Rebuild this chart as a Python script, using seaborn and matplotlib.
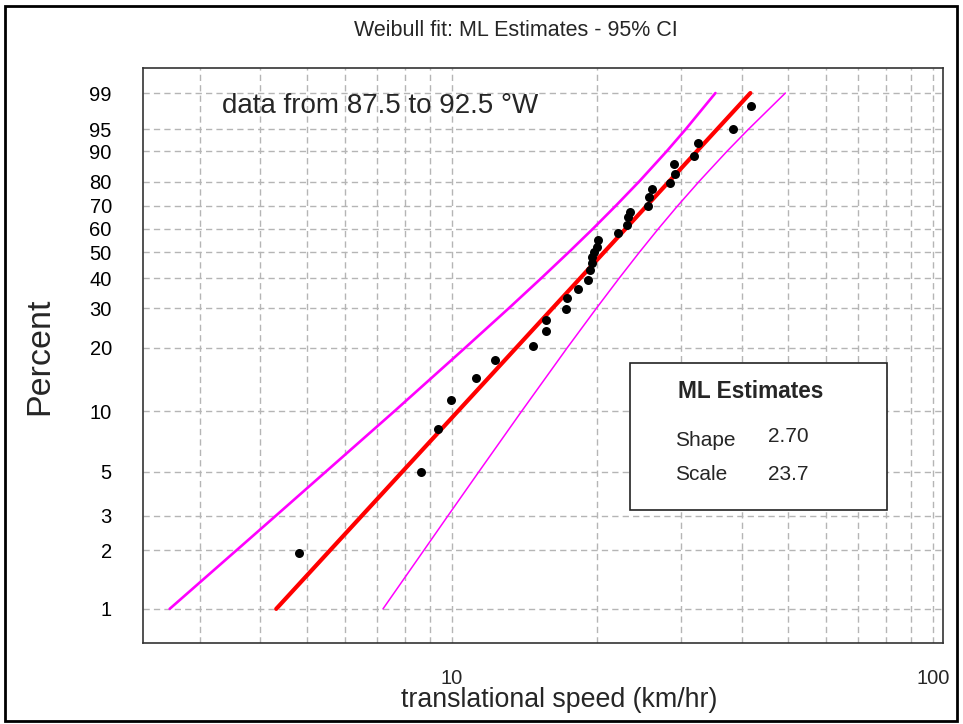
import numpy as np
import pandas as pd
import matplotlib
matplotlib.use("Agg")
import matplotlib.pyplot as plt
import matplotlib.ticker as mticker
from matplotlib.patches import Rectangle
import seaborn as sns

# Observed translational speeds (km/hr) and their plotting positions (%)
speed = [4.81, 8.62, 9.35, 9.95, 11.22, 12.28, 14.73, 15.68, 15.68, 17.25,
         17.34, 18.28, 19.18, 19.36, 19.55, 19.55, 19.74, 20.03, 20.12, 22.13,
         23.11, 23.20, 23.45, 25.56, 25.68, 26.05, 28.40, 29.08, 28.94, 31.85,
         32.46, 38.38, 41.84]
percent = [1.93, 4.98, 8.16, 11.33, 14.44, 17.57, 20.39, 23.85, 26.71, 29.82,
           33.20, 36.17, 39.33, 43.04, 45.74, 48.13, 50.19, 52.26, 55.22, 58.23,
           61.70, 65.20, 67.40, 69.98, 73.79, 77.07, 79.42, 82.78, 86.22, 88.69,
           92.13, 95.03, 98.07]

# Maximum-likelihood Weibull parameters
shape_ml = 2.70
scale_ml = 23.7

# 95% confidence bounds on the percentiles
ci_pct = [1, 2, 3, 5, 10, 20, 30, 40, 50, 60, 70, 80, 90, 95, 99]
ci_lower_speed = [2.59, 3.57, 4.31, 5.47, 7.60, 10.65, 13.12, 15.34, 17.47,
                  19.62, 21.89, 24.50, 27.94, 30.62, 35.30]
ci_upper_speed = [7.19, 8.75, 9.82, 11.38, 13.97, 17.36, 19.96, 22.27, 24.51,
                  26.84, 29.44, 32.63, 37.29, 41.35, 49.33]

y_ticks = [1, 2, 3, 5, 10, 20, 30, 40, 50, 60, 70, 80, 90, 95, 99]
x_major = [10, 100]
x_minor = [3, 4, 5, 6, 7, 8, 9, 20, 30, 40, 50, 60, 70, 80, 90]

sns.set_style("white")
plt.rcParams["font.family"] = ["Liberation Sans", "DejaVu Sans"]


def weib_fwd(p):
    p = np.clip(np.asarray(p, dtype=float), 1e-9, 100 - 1e-9)
    return np.log(-np.log(1 - p / 100.0))


def weib_inv(w):
    return 100.0 * (1 - np.exp(-np.exp(np.asarray(w, dtype=float))))


fig = plt.figure(figsize=(9.63, 7.24), dpi=100)
W, H = 963, 724
ax = fig.add_axes([143 / W, 1 - 643 / H, 800 / W, 575 / H])
ax.set_xscale("log")
ax.set_yscale("function", functions=(weib_fwd, weib_inv))
ax.set_xlim(2.28, 104.9)
ax.set_ylim(0.668, 99.797)

# fitted Weibull line from the ML parameters
fit_pct = np.array([1.0, 99.0])
fit_speed = scale_ml * (-np.log(1 - fit_pct / 100.0)) ** (1 / shape_ml)
fit_df = pd.DataFrame({"speed": fit_speed, "pct": fit_pct})
lo_df = pd.DataFrame({"speed": ci_lower_speed, "pct": ci_pct})
hi_df = pd.DataFrame({"speed": ci_upper_speed, "pct": ci_pct})
pts_df = pd.DataFrame({"speed": speed, "pct": percent})

sns.lineplot(data=lo_df, x="speed", y="pct", ax=ax, color="#ff00ff",
             lw=1.9, estimator=None, sort=False, zorder=3)
sns.lineplot(data=hi_df, x="speed", y="pct", ax=ax, color="#ff00ff",
             lw=1.1, estimator=None, sort=False, zorder=3)
sns.lineplot(data=fit_df, x="speed", y="pct", ax=ax, color="#ff0000",
             lw=3.0, estimator=None, sort=False, zorder=4)
sns.scatterplot(data=pts_df, x="speed", y="pct", ax=ax, color="black",
                s=42, edgecolor="black", linewidth=0, zorder=5)

ax.xaxis.set_major_locator(mticker.FixedLocator(x_major))
ax.xaxis.set_major_formatter(mticker.FixedFormatter([str(v) for v in x_major]))
ax.xaxis.set_minor_locator(mticker.FixedLocator(x_minor))
ax.xaxis.set_minor_formatter(mticker.NullFormatter())
ax.yaxis.set_major_locator(mticker.FixedLocator(y_ticks))
ax.yaxis.set_major_formatter(mticker.FixedFormatter([str(v) for v in y_ticks]))
ax.yaxis.set_minor_locator(mticker.NullLocator())

grid_kw = dict(color="#b5b5b5", linestyle=(0, (4.5, 3)), linewidth=1.0)
ax.grid(True, which="both", axis="x", **grid_kw)
ax.grid(True, which="major", axis="y", **grid_kw)
ax.set_axisbelow(True)

ax.tick_params(axis="y", which="major", direction="out", length=9.5,
               width=1.3, pad=13, labelsize=14.5, colors="black")
ax.tick_params(axis="x", which="major", direction="out", length=7.5,
               width=1.3, pad=11, labelsize=14.5)
ax.tick_params(axis="x", which="minor", direction="out", length=3.8,
               width=1.0)
for sp in ax.spines.values():
    sp.set_color("#333333")
    sp.set_linewidth(1.2)

ax.set_xlabel("")
ax.set_ylabel("")
fig.text(559 / W, 1 - 700 / H, "translational speed (km/hr)", fontsize=19.3,
         ha="center", va="center")
fig.text(40 / W, 1 - 356 / H, "Percent", fontsize=24.5, rotation=90,
         ha="center", va="center")
fig.text(516 / W, 1 - 30 / H, "Weibull fit: ML Estimates - 95% CI",
         fontsize=15.5, ha="center", va="center")
fig.text(222 / W, 1 - 106 / H, "data from 87.5 to 92.5 \u00b0W", fontsize=20,
         ha="left", va="center")

# box with the parameter estimates
bx0, bx1 = (630 - 143) / 800, (887 - 143) / 800
by0, by1 = (643 - 510) / 575, (643 - 363) / 575
ax.add_patch(Rectangle((bx0, by0), bx1 - bx0, by1 - by0, transform=ax.transAxes,
                       facecolor="white", edgecolor="#222222", lw=1.2,
                       zorder=6))


def axy(py):
    return (643 - py) / 575


def axx(px):
    return (px - 143) / 800


ax.text(axx(678), axy(392), "ML Estimates", fontsize=16.3, fontweight="bold",
        ha="left", va="center", transform=ax.transAxes, zorder=7)
ax.text(axx(675), axy(440), "Shape", fontsize=15, ha="left", va="center",
        transform=ax.transAxes, zorder=7)
ax.text(axx(768), axy(437), f"{shape_ml:.2f}", fontsize=15, ha="left",
        va="center", transform=ax.transAxes, zorder=7)
ax.text(axx(675), axy(475), "Scale", fontsize=15, ha="left", va="center",
        transform=ax.transAxes, zorder=7)
ax.text(axx(768), axy(475), f"{scale_ml:.1f}", fontsize=15, ha="left",
        va="center", transform=ax.transAxes, zorder=7)

# outer frame around the whole figure
fig.patches.append(Rectangle((5 / W, 3 / H), 952 / W, 715 / H,
                             transform=fig.transFigure, fill=False,
                             edgecolor="black", lw=2.0))

fig.savefig("out.png", dpi=100)
